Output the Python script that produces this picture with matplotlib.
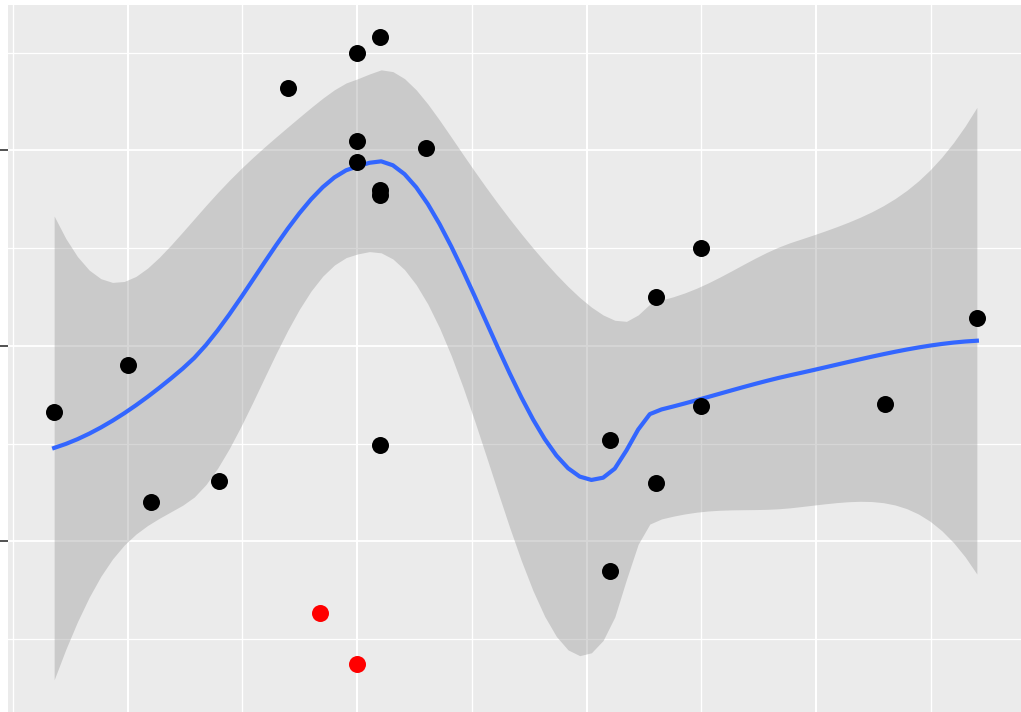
import math

import numpy as np
import matplotlib
matplotlib.use("Agg")
import matplotlib.pyplot as plt

# points used by the smoother (black)
x_pts = [1.8, 5.0, 6.0, 9.0, 12.0, 15.0, 15.0, 15.0, 16.0, 16.0, 16.0, 16.0,
         18.0, 26.0, 26.0, 28.0, 28.0, 30.0, 30.0, 38.0, 42.0]
y_pts = [6.6, 9.0, 2.0, 3.1, 23.2, 25.0, 20.5, 19.4, 25.8, 18.0, 17.7, 4.9,
         20.1, 5.2, -1.5, 12.5, 3.0, 15.0, 6.9, 7.0, 11.4]

# highlighted points (red), not part of the fit
x_red = [13.4, 15.0]
y_red = [-3.7, -6.3]

y_major = [0, 10, 20]
y_minor = [-5, 5, 15, 25]
x_major = [5, 15, 25, 35]
x_minor = [0, 10, 20, 30, 40]

BG = "#EBEBEB"
BLUE = "#3366FF"
SPAN = 0.75


def local_ops(x, x0, span=SPAN):
    """Operator rows (value, slope) of a local quadratic fit at x0."""
    n = len(x)
    q = int(math.floor(n * span))
    d = np.abs(x - x0)
    h = np.sort(d)[q - 1]
    w = np.clip(1 - (d / h) ** 3, 0, None) ** 3
    X = np.vander(x - x0, 3, increasing=True)
    XtW = X.T * w
    op = np.linalg.solve(XtW @ X, XtW)
    return op[0], op[1]


def kd_vertices(xs, fc):
    """Cell boundaries of the 1-d kd tree loess uses for interpolation."""
    mu = 0.005 * (xs[-1] - xs[0])
    verts = {xs[0] - mu, xs[-1] + mu}

    def split(l, u, vlo, vhi):
        if u - l + 1 <= fc:
            return
        m = (l + 1 + u + 1) // 2 - 1
        if xs[m] == vlo or xs[m] == vhi:
            return
        v = (xs[m] + xs[m + 1]) / 2
        verts.add(v)
        split(l, m, vlo, v)
        split(m + 1, u, v, vhi)

    split(0, len(xs) - 1, xs[0] - mu, xs[-1] + mu)
    return np.array(sorted(verts))


def interp_ops(x, verts, z):
    """Cubic Hermite interpolation of vertex operators (as loess does)."""
    vals = [local_ops(x, v) for v in verts]
    rows = []
    for zi in np.atleast_1d(z):
        k = min(max(np.searchsorted(verts, zi) - 1, 0), len(verts) - 2)
        v0, v1 = verts[k], verts[k + 1]
        h = v1 - v0
        t = (zi - v0) / h
        phi0 = (1 - t) ** 2 * (1 + 2 * t)
        phi1 = t ** 2 * (3 - 2 * t)
        psi0 = t * (1 - t) ** 2
        psi1 = -t ** 2 * (1 - t)
        g0, s0 = vals[k]
        g1, s1 = vals[k + 1]
        rows.append(phi0 * g0 + phi1 * g1 + (psi0 * s0 + psi1 * s1) * h)
    return np.array(rows)


def t_quantile(p, df):
    c = math.exp(math.lgamma((df + 1) / 2) - math.lgamma(df / 2)) / math.sqrt(df * math.pi)
    grid = np.linspace(0, 10, 20001)
    pdf = c * (1 + grid ** 2 / df) ** (-(df + 1) / 2)
    cdf = 0.5 + np.concatenate([[0], np.cumsum((pdf[1:] + pdf[:-1]) / 2 * np.diff(grid))])
    return float(np.interp(p, cdf, grid))


order = np.argsort(x_pts, kind="stable")
x = np.array(x_pts)[order]
y = np.array(y_pts)[order]
n = len(x)

fc = int(math.floor(n * SPAN * 0.2))
verts = kd_vertices(x, fc)

L = interp_ops(x, verts, x)
resid = y - L @ y
M = (np.eye(n) - L).T @ (np.eye(n) - L)
one_delta = np.trace(M)
two_delta = np.trace(M @ M)
s = math.sqrt(np.sum(resid ** 2) / one_delta)
tq = t_quantile(0.975, one_delta ** 2 / two_delta)

xs = np.linspace(x.min(), x.max(), 80)
rows = interp_ops(x, verts, xs)
fit = rows @ y
se = s * np.sqrt(np.sum(rows ** 2, axis=1))
lo = fit - tq * se
hi = fit + tq * se

fig = plt.figure(figsize=(10.21, 7.12), dpi=100)
ax = fig.add_axes([8 / 1021, 0, 1 - 8 / 1021 + 2 / 1021, 1 - 5 / 712])
ax.set_facecolor(BG)

xr = x.max() - x.min()
ax.set_xlim(x.min() - 0.05 * xr, x.max() + 0.05 * xr)
ymin = min(lo.min(), min(y_red), y.min())
ymax = max(hi.max(), y.max())
yr = ymax - ymin
ax.set_ylim(ymin - 0.05 * yr, ymax + 0.05 * yr)

for v in x_minor:
    ax.axvline(v, color="white", lw=1.0, zorder=0)
for v in x_major:
    ax.axvline(v, color="white", lw=1.5, zorder=0)
for v in y_minor:
    ax.axhline(v, color="white", lw=0.9, zorder=0)
for v in y_major:
    ax.axhline(v, color="white", lw=1.3, zorder=0)

ax.fill_between(xs, lo, hi, color="#999999", alpha=0.4, lw=0, zorder=1)
ax.plot(xs, fit, color=BLUE, lw=3.0, zorder=2)
ax.scatter(x, y, s=150, color="black", lw=0, zorder=3)
ax.scatter(x_red, y_red, s=150, color="red", lw=0, zorder=3)

for sp in ax.spines.values():
    sp.set_visible(False)
ax.set_xticks([])
ax.set_yticks(y_major)
ax.set_yticklabels([])
ax.tick_params(axis="y", length=6, width=1.2, color="#333333")

fig.savefig("out.png", dpi=100)
